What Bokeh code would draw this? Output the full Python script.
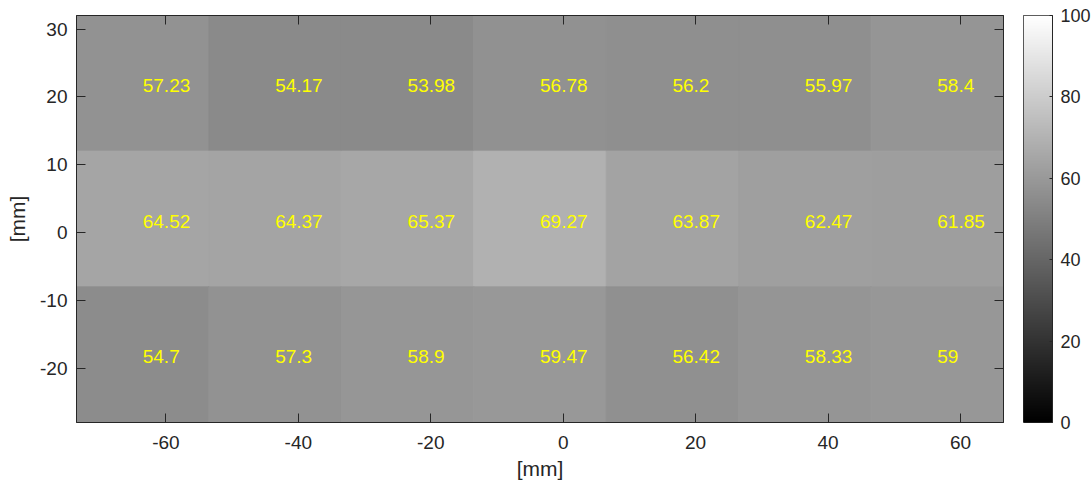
import numpy as np
from bokeh.plotting import figure
from bokeh.models import ColumnDataSource, LinearColorMapper, Range1d, LinearAxis, FixedTicker
from bokeh.palettes import gray
from bokeh.layouts import row
from bokeh.embed import file_html
from bokeh.resources import INLINE
from bokeh.core.properties import value

# ---- data ----
x_centers = [-63.5, -43.5, -23.5, -3.5, 16.5, 36.5, 56.5]
y_centers = [22, 2, -18]
row_top = [57.23, 54.17, 53.98, 56.78, 56.2, 55.97, 58.4]
row_mid = [64.52, 64.37, 65.37, 69.27, 63.87, 62.47, 61.85]
row_bot = [54.7, 57.3, 58.9, 59.47, 56.42, 58.33, 59]
x_ticks = [-60, -40, -20, 0, 20, 40, 60]
y_ticks = [-20, -10, 0, 10, 20, 30]
cbar_ticks = [0, 20, 40, 60, 80, 100]
cell_size = 20
x_label = "[mm]"
y_label = "[mm]"

rows = [row_top, row_mid, row_bot]
xs, ys, vals, labels = [], [], [], []
for yc, r in zip(y_centers, rows):
    for xc, v in zip(x_centers, r):
        xs.append(xc)
        ys.append(yc)
        vals.append(v)
        labels.append(f"{v:g}")
src = ColumnDataSource(dict(x=xs, y=ys, v=vals, label=labels))

FONT = "Liberation Sans"
DARK = "#262626"
mapper = LinearColorMapper(palette=gray(256), low=0, high=100)

p = figure(frame_width=927, frame_height=407,
           x_range=Range1d(-73.5, 66.5), y_range=Range1d(-28, 32),
           output_backend="svg", toolbar_location=None,
           min_border_left=76, min_border_top=15, min_border_bottom=63, min_border_right=10,
           x_axis_label=x_label, y_axis_label=y_label)
p.rect(x="x", y="y", width=cell_size, height=cell_size, source=src,
       fill_color={"field": "v", "transform": mapper},
       line_color={"field": "v", "transform": mapper}, line_width=1)
p.text(x="x", y="y", text="label", source=src, text_align="left", text_baseline="middle",
       text_color="#ffff00", text_font=value(FONT), text_font_size="19px", y_offset=2)

p.xgrid.visible = False
p.ygrid.visible = False
p.outline_line_color = DARK
p.outline_line_alpha = 1

for ax, ticks in ((p.xaxis[0], x_ticks), (p.yaxis[0], y_ticks)):
    ax.ticker = FixedTicker(ticks=ticks)
    ax.major_label_overrides = {t: str(t) for t in ticks}
    ax.major_tick_in = 9
    ax.major_tick_out = 0
    ax.minor_tick_line_color = None
    ax.axis_line_color = DARK
    ax.major_tick_line_color = DARK
    ax.major_label_text_color = DARK
    ax.major_label_text_font = FONT
    ax.major_label_text_font_size = "19px"
    ax.axis_label_text_font = FONT
    ax.axis_label_text_font_size = "21px"
    ax.axis_label_text_font_style = "normal"
    ax.axis_label_text_color = DARK
p.xaxis[0].major_label_standoff = 13
p.xaxis[0].axis_label_standoff = 5
p.yaxis[0].major_label_standoff = 9
p.yaxis[0].axis_label_standoff = 8

for loc, ticks in (("above", x_ticks), ("right", y_ticks)):
    ax = LinearAxis(ticker=FixedTicker(ticks=ticks), major_tick_in=9, major_tick_out=0,
                    minor_tick_line_color=None, major_label_text_font_size="1px",
                    major_label_text_color=None,
                    major_label_standoff=0, axis_line_color=DARK, major_tick_line_color=DARK)
    p.add_layout(ax, loc)

# ---- colorbar ----
cb = figure(frame_width=29, frame_height=407, x_range=Range1d(0, 1), y_range=Range1d(0, 100),
            output_backend="svg", toolbar_location=None,
            x_axis_location=None, y_axis_location="right",
            min_border_left=10, min_border_top=15, min_border_bottom=63, min_border_right=0)
grad = np.linspace(cbar_ticks[0], cbar_ticks[-1], 256).reshape(256, 1)
cb.image(image=[grad], x=0, y=0, dw=1, dh=100, color_mapper=mapper)
cb.xgrid.visible = False
cb.ygrid.visible = False
cb.outline_line_color = DARK
ya = cb.yaxis[0]
ya.ticker = FixedTicker(ticks=cbar_ticks)
ya.major_tick_in = 3
ya.major_tick_out = 0
ya.minor_tick_line_color = None
ya.axis_line_color = DARK
ya.major_tick_line_color = DARK
ya.major_label_text_color = DARK
ya.major_label_text_font = FONT
ya.major_label_text_font_size = "18px"
ya.major_label_standoff = 8

layout = row(p, cb, spacing=0)
open("out.html", "w").write(file_html(layout, INLINE))
